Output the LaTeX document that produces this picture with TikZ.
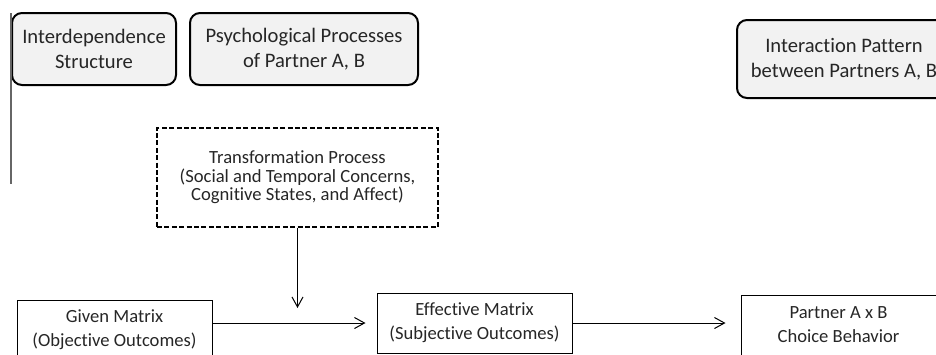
\documentclass[tikz,border=0pt]{standalone}
\usepackage{fontspec}
\setmainfont{Carlito}[Ligatures=NoCommon]
\usepackage{xcolor}
\usepackage{tikz}
\usetikzlibrary{positioning, arrows.meta}

\begin{document}
\begin{tikzpicture}[x=0.5pt, y=-0.5pt, >={Straight Barb[length=5pt, width=5.5pt]},
    main/.style = {draw, line width=1pt, rounded corners=5pt, fill=gray!10, align=center, text=black!85, font=\fontsize{10.3}{12.5}\selectfont, minimum height=36pt},
    trans/.style = {draw, line width=0.7pt, dash pattern=on 2.5pt off 1.2pt, align=center, text=black!85, font=\fontsize{9.3}{9.2}\selectfont},
    mat/.style = {draw, line width=0.5pt, align=center, text=black!85, font=\fontsize{9.3}{12}\selectfont, minimum width=97.5pt, minimum height=30pt}]
    \useasboundingbox (0,0) rectangle (936,354);
    \node[main, minimum width=82pt] (1) at (94,49) {Interdependence\\Structure};
    \node[main, minimum width=114pt] (2) [right=6pt of 1] {Psychological Processes\\of Partner A, B};
    \node[main, minimum width=107pt, minimum height=39pt] (3) at (844,59) {Interaction Pattern\\between Partners A, B};
    \node[trans, minimum width=140.5pt, minimum height=49.5pt] (4) at (297.5,177.5) {Transformation Process\\(Social and Temporal Concerns,\\Cognitive States, and Affect)};
    \node[mat] (5) at (114.5,330) {Given Matrix\\(Objective Outcomes)};
    \node[mat] (6) [right=82pt of 5, yshift=3.5pt] {Effective Matrix\\(Subjective Outcomes)};
    \node[mat] (7) [right=84pt of 6, yshift=-1pt] {Partner A x B\\Choice Behavior};

    % left margin rule
    \coordinate (a) at (11,13);
    \coordinate (b) at (11,184);
    \draw[line width=0.6pt, black!60] (a) -- (b);

    \draw[->, line width=0.5pt, shorten >=5.5pt](6.west -| 5.east) -- (6.west);
    \draw[->, line width=0.5pt, shorten >=7.5pt](6.east) -- (6.east -| 7.west);
    \draw[->, line width=0.5pt, shorten >=7.5pt](4.south) -- (4.south |- 6.west);

\end{tikzpicture}
\end{document}
